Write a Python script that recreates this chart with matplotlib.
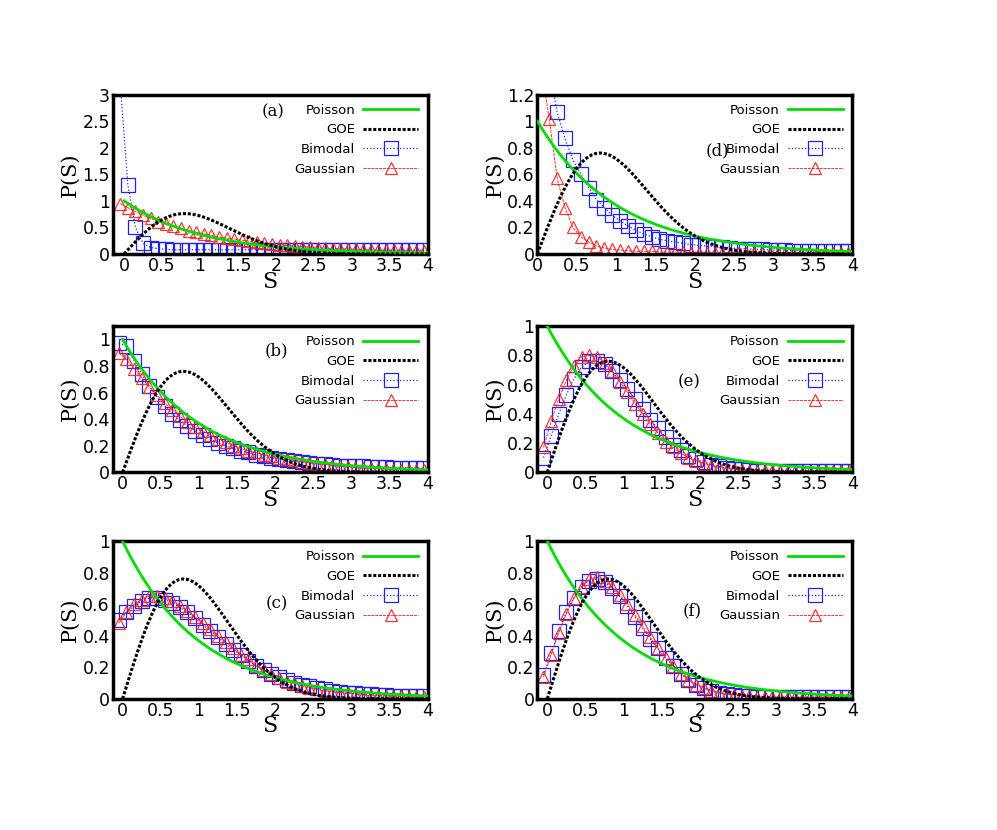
import numpy as np
import matplotlib
matplotlib.use("Agg")
import matplotlib.pyplot as plt

# S positions of the numerical histogram points (bins of 0.1)
s_pts = np.round(np.arange(-0.05, 4.0, 0.1), 2)  # 41 points

bim_a = [3.2, 1.3, 0.5, 0.2, 0.12, 0.1, 0.09, 0.08, 0.08, 0.08, 0.08, 0.08, 0.08, 0.08, 0.08, 0.08, 0.08, 0.08, 0.08, 0.08,
         0.08, 0.08, 0.08, 0.08, 0.08, 0.08, 0.08, 0.08, 0.08, 0.07, 0.07, 0.07, 0.07, 0.07, 0.07, 0.07, 0.07, 0.07, 0.07, 0.07, 0.07]
gau_a = [0.95, 0.87, 0.8, 0.73, 0.67, 0.61, 0.56, 0.52, 0.48, 0.44, 0.41, 0.38, 0.35, 0.32, 0.3, 0.28, 0.26, 0.24, 0.22, 0.2,
         0.19, 0.17, 0.16, 0.15, 0.14, 0.13, 0.12, 0.11, 0.1, 0.1, 0.09, 0.09, 0.08, 0.08, 0.07, 0.07, 0.07, 0.06, 0.06, 0.06, 0.06]

bim_b = [0.97, 0.95, 0.84, 0.74, 0.65, 0.57, 0.5, 0.44, 0.39, 0.35, 0.31, 0.28, 0.25, 0.22, 0.2, 0.18, 0.16, 0.15, 0.13, 0.12,
         0.11, 0.1, 0.09, 0.085, 0.08, 0.07, 0.065, 0.06, 0.055, 0.05, 0.05, 0.045, 0.045, 0.04, 0.04, 0.04, 0.035, 0.035, 0.035, 0.03, 0.03]
gau_b = [0.9, 0.85, 0.78, 0.71, 0.64, 0.58, 0.52, 0.47, 0.42, 0.38, 0.34, 0.31, 0.28, 0.25, 0.23, 0.2, 0.18, 0.16, 0.15, 0.13,
         0.12, 0.11, 0.1, 0.09, 0.08, 0.07, 0.065, 0.06, 0.05, 0.045, 0.04, 0.035, 0.03, 0.03, 0.025, 0.025, 0.02, 0.02, 0.02, 0.015, 0.015]

bim_c = [0.5, 0.55, 0.59, 0.62, 0.64, 0.64, 0.63, 0.61, 0.58, 0.55, 0.51, 0.47, 0.43, 0.39, 0.35, 0.31, 0.28, 0.24, 0.21, 0.18,
         0.16, 0.14, 0.12, 0.1, 0.09, 0.08, 0.07, 0.06, 0.05, 0.045, 0.04, 0.035, 0.03, 0.03, 0.025, 0.025, 0.02, 0.02, 0.02, 0.02, 0.02]
gau_c = [0.48, 0.55, 0.6, 0.63, 0.65, 0.65, 0.64, 0.62, 0.59, 0.56, 0.52, 0.48, 0.44, 0.4, 0.36, 0.32, 0.28, 0.25, 0.21, 0.18,
         0.16, 0.13, 0.11, 0.1, 0.08, 0.07, 0.06, 0.05, 0.045, 0.04, 0.035, 0.03, 0.025, 0.02, 0.02, 0.02, 0.015, 0.015, 0.01, 0.01, 0.01]

bim_d = [3.0, 2.0, 1.4, 1.07, 0.87, 0.71, 0.6, 0.5, 0.41, 0.35, 0.29, 0.25, 0.21, 0.18, 0.15, 0.13, 0.11, 0.1, 0.09, 0.08,
         0.07, 0.065, 0.06, 0.055, 0.05, 0.045, 0.04, 0.04, 0.035, 0.035, 0.03, 0.03, 0.03, 0.025, 0.025, 0.025, 0.02, 0.02, 0.02, 0.02, 0.02]
gau_d = [2.0, 1.4, 1.02, 0.57, 0.35, 0.2, 0.13, 0.09, 0.06, 0.045, 0.035, 0.03, 0.025, 0.02, 0.02, 0.02, 0.015, 0.015, 0.015, 0.015,
         0.01, 0.01, 0.01, 0.01, 0.01, 0.01, 0.01, 0.01, 0.01, 0.01, 0.01, 0.01, 0.01, 0.01, 0.01, 0.01, 0.01, 0.01, 0.01, 0.01, 0.01]

bim_e = [0.1, 0.25, 0.4, 0.53, 0.64, 0.72, 0.76, 0.76, 0.74, 0.69, 0.63, 0.57, 0.5, 0.43, 0.36, 0.3, 0.24, 0.19, 0.15, 0.11,
         0.09, 0.07, 0.05, 0.04, 0.03, 0.025, 0.02, 0.015, 0.01, 0.01, 0.01, 0.01, 0.01, 0.01, 0.01, 0.01, 0.01, 0.01, 0.01, 0.01, 0.01]
gau_e = [0.17, 0.35, 0.5, 0.63, 0.73, 0.79, 0.8, 0.79, 0.75, 0.69, 0.62, 0.55, 0.47, 0.4, 0.33, 0.27, 0.21, 0.17, 0.13, 0.1,
         0.08, 0.06, 0.045, 0.035, 0.025, 0.02, 0.015, 0.01, 0.01, 0.01, 0.01, 0.01, 0.01, 0.01, 0.01, 0.01, 0.01, 0.01, 0.01, 0.01, 0.01]

bim_f = [0.15, 0.29, 0.43, 0.55, 0.64, 0.71, 0.75, 0.76, 0.74, 0.7, 0.65, 0.59, 0.52, 0.45, 0.38, 0.32, 0.26, 0.21, 0.16, 0.12,
         0.09, 0.07, 0.05, 0.04, 0.03, 0.025, 0.02, 0.015, 0.01, 0.01, 0.01, 0.01, 0.01, 0.01, 0.01, 0.01, 0.01, 0.01, 0.01, 0.01, 0.01]
gau_f = [0.14, 0.28, 0.42, 0.54, 0.64, 0.71, 0.76, 0.77, 0.75, 0.71, 0.66, 0.6, 0.53, 0.46, 0.39, 0.32, 0.26, 0.21, 0.16, 0.12,
         0.09, 0.07, 0.05, 0.04, 0.03, 0.025, 0.02, 0.015, 0.01, 0.01, 0.01, 0.01, 0.01, 0.01, 0.01, 0.01, 0.01, 0.01, 0.01, 0.01, 0.01]

panel_labels = ["(a)", "(b)", "(c)", "(d)", "(e)", "(f)"]
xlims = [(-0.15, 4), (-0.13, 4), (-0.13, 4), (0, 4), (-0.13, 4), (-0.13, 4)]
ylims = [(0, 3), (0, 1.1), (0, 1), (0, 1.2), (0, 1), (0, 1)]
yticks = [[0, 0.5, 1, 1.5, 2, 2.5, 3], [0, 0.2, 0.4, 0.6, 0.8, 1], [0, 0.2, 0.4, 0.6, 0.8, 1],
          [0, 0.2, 0.4, 0.6, 0.8, 1, 1.2], [0, 0.2, 0.4, 0.6, 0.8, 1], [0, 0.2, 0.4, 0.6, 0.8, 1]]
xticks = [0, 0.5, 1, 1.5, 2, 2.5, 3, 3.5, 4]
data = [(bim_a, gau_a), (bim_b, gau_b), (bim_c, gau_c), (bim_d, gau_d), (bim_e, gau_e), (bim_f, gau_f)]

lefts = [0.113, 0.113, 0.113, 0.539, 0.539, 0.539]
bottoms = [0.694, 0.431, 0.158, 0.694, 0.431, 0.158]
heights = [0.192, 0.176, 0.190, 0.192, 0.176, 0.190]
label_pos = [(0.51, 0.89), (0.52, 0.83), (0.52, 0.60), (0.57, 0.65), (0.48, 0.62), (0.49, 0.56)]

s_th = np.linspace(0, 4, 400)
poisson = np.exp(-s_th)
goe = np.pi / 2 * s_th * np.exp(-np.pi * s_th ** 2 / 4)

fig = plt.figure(figsize=(9.97, 8.3), dpi=100)
for i in range(6):
    ax = fig.add_axes([lefts[i], bottoms[i], 0.316, heights[i]])
    bim, gau = data[i]
    ax.plot(s_th, poisson, color="#00dd00", lw=2, label="Poisson", zorder=3)
    ax.plot(s_th, goe, color="black", lw=2.2, ls=(0, (1, 0.6)), label="GOE", zorder=3)
    ax.plot(s_pts, bim, color="#2222ee", lw=0.9, ls=":", marker="s", ms=10, mfc="none",
            mew=0.9, label="Bimodal", zorder=2)
    ax.plot(s_pts, gau, color="#ee2222", lw=0.7, ls=(0, (3, 1)), marker="^", ms=9, mfc="none",
            mew=0.9, label="Gaussian", zorder=2, alpha=0.9)
    ax.set_xlim(*xlims[i])
    ax.set_ylim(*ylims[i])
    ax.set_xticks(xticks)
    ax.set_xticklabels(["0", "0.5", "1", "1.5", "2", "2.5", "3", "3.5", "4"])
    ax.set_yticks(yticks[i])
    ax.set_yticklabels([("%g" % v) for v in yticks[i]])
    ax.tick_params(labelsize=12.5, length=0, pad=2)
    for sp in ax.spines.values():
        sp.set_linewidth(2.5)
    ax.set_ylabel("P(S)", fontfamily="DejaVu Serif", fontsize=15, labelpad=2)
    ax.set_xlabel("S", fontfamily="DejaVu Serif", fontsize=16, labelpad=-3)
    ax.legend(loc="upper right", frameon=False, markerfirst=False, fontsize=9.5,
              handlelength=4.2, labelspacing=0.5, borderaxespad=0.3, handletextpad=0.6)
    ax.text(label_pos[i][0], label_pos[i][1], panel_labels[i], transform=ax.transAxes,
            fontfamily="DejaVu Serif", fontsize=12, ha="center", va="center")

fig.savefig("out.png", dpi=100)
